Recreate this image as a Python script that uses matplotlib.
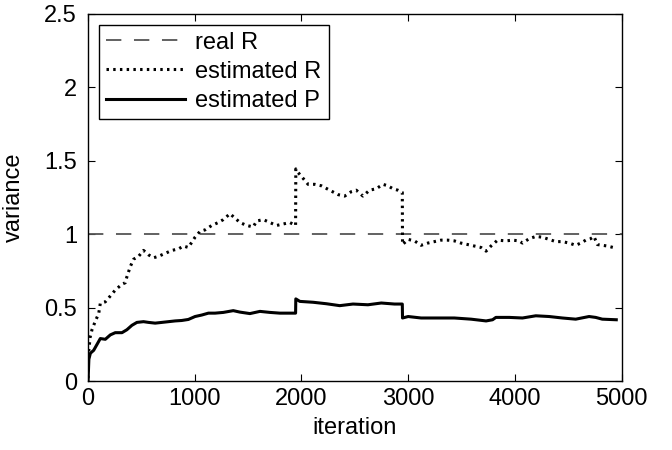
import numpy as np
import matplotlib
matplotlib.use('Agg')
import matplotlib.pyplot as plt

plt.rcParams['font.family'] = ['Liberation Sans', 'DejaVu Sans']
plt.rcParams['font.size'] = 17

# real R (constant)
real_iter = [0, 5000]
real_R = [1.0, 1.0]

# estimated R
est_R_iter = [0, 6, 20, 37, 69, 100, 115, 162, 209, 255, 318, 349, 364, 396, 427, 474,
              520, 567, 614, 660, 723, 785, 847, 894, 940, 1003, 1050, 1097, 1159, 1221,
              1268, 1330, 1377, 1424, 1486, 1548, 1580, 1642, 1704, 1767, 1829, 1891, 1945,
              1947, 1969, 2016, 2062, 2125, 2187, 2265, 2343, 2405, 2467, 2514, 2576, 2638,
              2701, 2763, 2810, 2857, 2904, 2945, 2947, 3000, 3059, 3121, 3184, 3246, 3308,
              3371, 3433, 3495, 3558, 3620, 3683, 3730, 3776, 3838, 3916, 3978, 4040, 4071,
              4134, 4196, 4258, 4321, 4383, 4445, 4508, 4570, 4617, 4664, 4710, 4741, 4773,
              4819, 4866, 4950]
est_R = [0.02, 0.2, 0.3, 0.35, 0.41, 0.46, 0.53, 0.54, 0.58, 0.62, 0.66, 0.67, 0.71, 0.78,
         0.83, 0.85, 0.89, 0.86, 0.84, 0.85, 0.87, 0.89, 0.90, 0.92, 0.91, 0.98, 1.02, 1.03,
         1.06, 1.08, 1.10, 1.14, 1.11, 1.08, 1.06, 1.05, 1.09, 1.10, 1.08, 1.06, 1.07, 1.08,
         1.06, 1.445, 1.42, 1.38, 1.34, 1.34, 1.33, 1.30, 1.27, 1.26, 1.29, 1.30, 1.26, 1.30,
         1.31, 1.34, 1.33, 1.31, 1.30, 1.285, 0.93, 0.965, 0.955, 0.925, 0.94, 0.95, 0.96,
         0.96, 0.955, 0.94, 0.93, 0.92, 0.91, 0.885, 0.92, 0.96, 0.955, 0.96, 0.955, 0.94,
         0.97, 0.985, 0.98, 0.965, 0.95, 0.95, 0.94, 0.925, 0.94, 0.96, 0.97, 0.985, 0.93,
         0.925, 0.92, 0.905]

# estimated P
est_P_iter = [0, 8, 22, 53, 84, 115, 162, 209, 255, 318, 364, 411, 458, 520, 567, 629, 692,
              754, 816, 878, 940, 1003, 1065, 1128, 1190, 1268, 1361, 1424, 1517, 1611, 1704,
              1798, 1891, 1945, 1947, 1985, 2110, 2234, 2359, 2483, 2623, 2748, 2872, 2945,
              2947, 3000, 3121, 3277, 3433, 3589, 3730, 3791, 3822, 3947, 4071, 4196, 4321,
              4445, 4570, 4695, 4757, 4819, 4950]
est_P = [0.0, 0.15, 0.19, 0.21, 0.25, 0.29, 0.285, 0.315, 0.33, 0.33, 0.35, 0.38, 0.40,
         0.405, 0.40, 0.395, 0.40, 0.405, 0.41, 0.413, 0.42, 0.44, 0.45, 0.463, 0.463, 0.468,
         0.48, 0.47, 0.46, 0.475, 0.468, 0.463, 0.463, 0.463, 0.56, 0.543, 0.537, 0.527,
         0.514, 0.525, 0.52, 0.532, 0.525, 0.525, 0.43, 0.44, 0.43, 0.43, 0.43, 0.422, 0.41,
         0.418, 0.434, 0.434, 0.43, 0.445, 0.44, 0.43, 0.422, 0.44, 0.434, 0.422, 0.418]

fig = plt.figure(figsize=(6.72, 4.5), dpi=100)
ax = fig.add_axes([0.131, 0.153, 0.794, 0.816])

ax.plot(real_iter, real_R, color='#555555', lw=1.3, linestyle=(0, (8.5, 7)), label='real R')
ax.plot(est_R_iter, est_R, color='black', lw=2.2, linestyle=(0, (0.8, 1.4)),
        label='estimated R')
ax.plot(est_P_iter, est_P, '-', color='black', lw=2.2, label='estimated P')

ax.set_xlim(0, 5000)
ax.set_ylim(0, 2.5)
ax.set_xticks([0, 1000, 2000, 3000, 4000, 5000])
ax.set_yticks([0, 0.5, 1, 1.5, 2, 2.5])
ax.set_yticklabels(['0', '0.5', '1', '1.5', '2', '2.5'])
ax.tick_params(direction='in', top=True, right=True, length=5, width=0.8, pad=5)
ax.tick_params(axis='y', pad=8)
for s in ax.spines.values():
    s.set_linewidth(1.0)

ax.set_xlabel('iteration', labelpad=5)
ax.set_ylabel('variance', labelpad=14)

leg = ax.legend(loc='upper left', handlelength=3.35, fancybox=False, edgecolor='black',
                framealpha=1, borderaxespad=0.45, labelspacing=0.3, handletextpad=0.45,
                borderpad=0.3)
leg.get_frame().set_linewidth(1.0)

fig.savefig('out.png', dpi=100)
